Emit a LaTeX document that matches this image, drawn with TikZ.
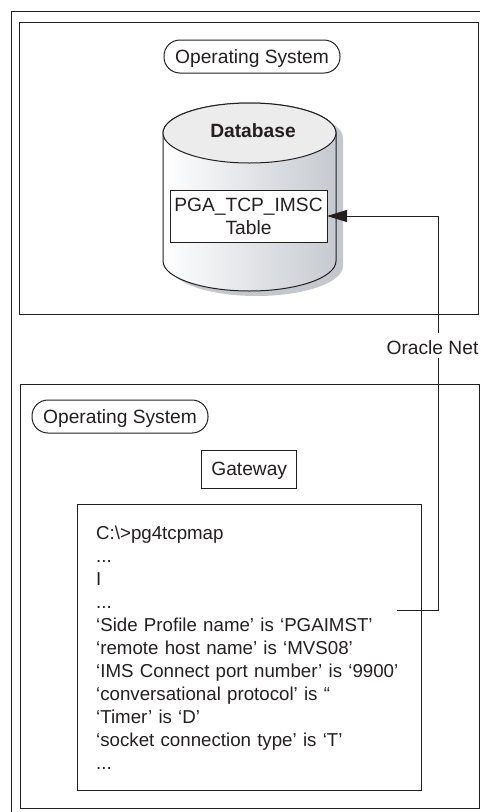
\documentclass[tikz,border=0pt]{standalone}
\usepackage{fontspec}
\setmainfont{Liberation Sans}
\usetikzlibrary{positioning,arrows.meta}
\definecolor{inkgrey}{HTML}{231F20}
\definecolor{dbside}{HTML}{C6CAD0}
\definecolor{dbtop}{HTML}{ECECEC}
\definecolor{dbshadow}{HTML}{C4C7CC}
\tikzstyle{frame}=[draw=inkgrey,line width=1pt,inner sep=0pt,outer sep=0pt]
\tikzstyle{pill}=[frame,rounded corners=16pt,minimum width=176pt,minimum height=33pt,text height=14pt,text depth=0pt]
\tikzstyle{link}=[draw=inkgrey,line width=0.9pt,-{Triangle[length=20pt,width=12pt]}]
\newcommand{\dbbody}{(163,133) -- (163,261) arc[start angle=180,end angle=360,x radius=86.5pt,y radius=30pt] -- (336,133) arc[start angle=0,end angle=180,x radius=86.5pt,y radius=30pt] -- cycle}

\begin{document}
\begin{tikzpicture}[x=1pt,y=-1pt,font=\fontsize{19.2}{23}\selectfont,text=inkgrey]
    \useasboundingbox (0,0) rectangle (480,812);

    \draw[frame] (11.5,812) -- (11.5,11) -- (480,11);
    \node[frame,minimum width=458.5pt,minimum height=292.5pt] (host_0) at (249.2,168.4) {};
    \node[frame,minimum width=459pt,minimum height=424.5pt]   (host_1) at (249.5,596.4) {};

    \node[pill] (os_0) at (252,56.5) {Operating System};
    \node[pill] (os_1) at (120,416.5) {Operating System};

    % the database drum
    \fill[dbshadow,xshift=7pt,yshift=-5pt] \dbbody;
    \draw[frame,left color=white,right color=dbside] \dbbody;
    \draw[frame,fill=dbtop] (249.5,133) circle[x radius=86.5pt,y radius=30pt];
    \node[font=\fontsize{19.2}{23}\selectfont\bfseries] (db) at (253,131) {Database};

    \node[frame,fill=white,align=center,minimum width=157pt,minimum height=52pt] (tbl) at (248.5,216) {PGA\_TCP\_IMSC\\Table};

    \node[frame,minimum width=95pt,minimum height=38pt,text height=14pt,text depth=1pt] (gw) at (249.2,469) {Gateway};
    \node[frame,font=\fontsize{18.7}{23}\selectfont,align=left,text width=306pt,inner xsep=19pt,minimum height=285.5pt] (map) [below=16.5pt of gw] {%
      C:\textbackslash>pg4tcpmap\\
      ...\\
      I\\
      ...\\
      ‘Side Profile name’ is ‘PGAIMST’\\
      ‘remote host name’ is ‘MVS08’\\
      ‘IMS Connect port number’ is ‘9900’\\
      ‘conversational protocol’ is “\\
      ‘Timer’ is ‘D’\\
      ‘socket connection type’ is ‘T’\\
      ...};

    \coordinate (side) at (397,610);
    \coordinate (turn) at (438,610);
    \path[link] (side) -- (turn) |- (tbl.east);

    \node[fill=white,inner xsep=0pt,inner ysep=0pt,text height=21.3pt,text depth=3.7pt] (net) at (432.5,345.5) {Oracle Net};
\end{tikzpicture}
\end{document}
